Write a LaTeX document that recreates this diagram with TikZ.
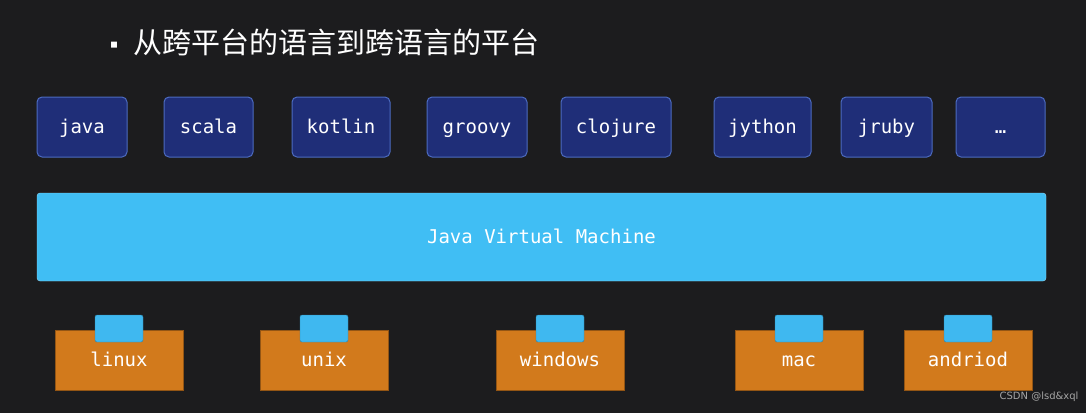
\documentclass[tikz,border=0pt]{standalone}
\usepackage{fontspec}
\setmainfont{DejaVu Sans}
\newfontfamily\cjk{Noto Sans CJK SC}
\newfontfamily\mono{DejaVu Sans Mono}
\definecolor{bg}{HTML}{1C1C1E}
\definecolor{lang}{HTML}{1F2E78}
\definecolor{langb}{HTML}{4C6BC0}
\definecolor{jvm}{HTML}{40BEF4}
\definecolor{os}{HTML}{D27A1C}
\definecolor{tab}{HTML}{3FB8F0}
\begin{document}
\begin{tikzpicture}[x=1pt,y=-1pt,
 lbl/.style={text=white,font=\mono\fontsize{19}{19}\selectfont},
 lg/.style={draw=langb,line width=1pt,fill=lang,rounded corners=5pt},
 osb/.style={draw=os!70!black,fill=os},
 tb/.style={draw=tab!70!black,fill=tab,rounded corners=2pt}]
\fill[bg] (0,0) rectangle (1086,413);
\useasboundingbox (0,0) rectangle (1086,413);
\node[text=white,font=\cjk\fontsize{29}{29}\selectfont,anchor=west] (title) at (100,42) {{\fontsize{22}{22}\selectfont▪}\hspace{8pt}从跨平台的语言到跨语言的平台};
\foreach \n/\a/\b/\t in {j/37/127/java,s/164/253/scala,k/292/390/kotlin,g/427/527/groovy,c/561/671/clojure,jy/714/811/jython,jr/841/932/jruby,d/956/1045/\dots}{
 \draw[lg] (\a,97) rectangle (\b,157);
 \node[lbl,text height=14pt,text depth=4pt] (\n) at ({(\a+\b)/2},128) {\t};
}
\draw[draw=jvm!60!white,fill=jvm,rounded corners=3pt] (37,193) rectangle (1046,281);
\node[lbl,text height=14pt,text depth=4pt] (jvm) at (541.5,238) {Java Virtual Machine};
\foreach \n/\a/\t in {l/55/linux,u/260/unix,w/496/windows,m/735/mac,an/904/andriod}{
 \draw[osb] (\a,330) rectangle ({\a+128},390);
 \draw[tb] ({\a+40},315) rectangle ({\a+88},342);
 \node[lbl,text height=14pt,text depth=4pt] (\n) at ({\a+64},361) {\t};
}
\node[text=gray!70,font=\fontsize{10}{10}\selectfont,anchor=east] (wm) at (1082,397) {CSDN @lsd\&xql};
\end{tikzpicture}
\end{document}
